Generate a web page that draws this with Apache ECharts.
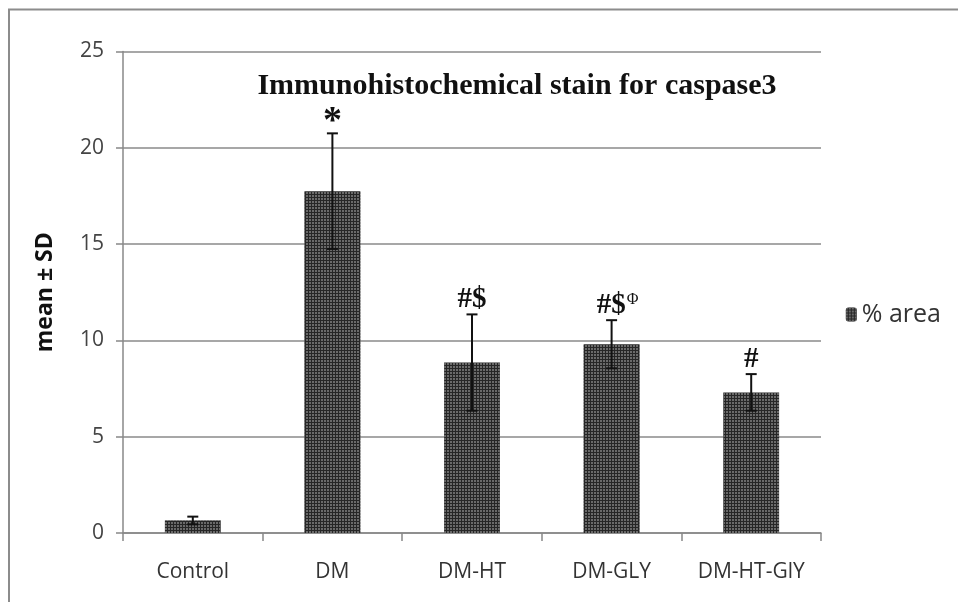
<!DOCTYPE html>
<html>
<head>
<meta charset="utf-8">
<script src="https://cdn.jsdelivr.net/npm/echarts@6/dist/echarts.min.js"></script>
<style>html,body{margin:0;padding:0;background:#fff;}#c{width:958px;height:602px;}</style>
</head>
<body>
<div id="c"></div>
<script>
const categories = ['Control', 'DM', 'DM-HT', 'DM-GLY', 'DM-HT-GlY'];
const means = [0.65, 17.75, 8.85, 9.8, 7.3];
const sds = [0.2, 3.0, 2.5, 1.25, 0.95];
const marks = ['', '*', '#$', '#$Φ', '#'];
const yTicks = [0, 5, 10, 15, 20, 25];
const titleText = 'Immunohistochemical stain for caspase3';
const seriesName = '% area';

const chart = echarts.init(document.getElementById('c'));
const errData = categories.map((c, i) => [i, means[i] - sds[i], means[i] + sds[i]]);
const markData = categories.map((c, i) => [i, means[i] + sds[i], marks[i]]);

chart.setOption({
  backgroundColor: '#fff',
  animation: false,
  graphic: [{
    type: 'polyline',
    shape: { points: [[9, 602], [9, 9.5], [958, 9.5]] },
    style: { stroke: '#8c8c8c', lineWidth: 2, fill: null }
  }],
  title: {
    text: titleText,
    left: 512, top: 66, textAlign: 'center',
    textStyle: { fontFamily: 'Liberation Serif', fontWeight: 'bold', fontSize: 30, color: '#111' }
  },
  legend: {
    right: 12, top: 297,
    itemWidth: 11, itemHeight: 14, itemGap: 6,
    textStyle: { fontFamily: 'Open Sans', fontSize: 25, color: '#333' },
    data: [seriesName]
  },
  grid: { left: 123, right: 137, top: 51.5, bottom: 69 },
  xAxis: {
    type: 'category',
    data: categories,
    axisLine: { lineStyle: { color: '#888', width: 1.5 } },
    axisTick: { show: true, length: 8, lineStyle: { color: '#888', width: 1.5 } },
    axisLabel: { margin: 29, fontFamily: 'Open Sans', fontSize: 21, color: '#333' }
  },
  yAxis: {
    type: 'value', min: yTicks[0], max: yTicks[yTicks.length - 1], interval: 5,
    name: 'mean ± SD', nameLocation: 'middle', nameGap: 66,
    nameTextStyle: { fontFamily: 'Open Sans', fontWeight: 'bold', fontSize: 23, color: '#111' },
    axisLine: { show: true, lineStyle: { color: '#888', width: 1.5 } },
    axisTick: { show: true, length: 7, lineStyle: { color: '#888', width: 1.5 } },
    axisLabel: { margin: 19, fontFamily: 'Open Sans', fontSize: 21, color: '#444' },
    splitLine: { lineStyle: { color: '#8a8a8a', width: 1.5 } }
  },
  series: [{
    name: seriesName,
    type: 'bar',
    data: means,
    barWidth: '40%',
    itemStyle: {
      color: '#262626',
      decal: { symbol: 'rect', symbolSize: 1, dashArrayX: [[2, 1]], dashArrayY: [2, 1], color: '#6a6a6a', rotation: 0 }
    }
  }, {
    type: 'custom',
    data: errData,
    z: 5,
    renderItem: function (params, api) {
      const lo = api.coord([api.value(0), api.value(1)]);
      const hi = api.coord([api.value(0), api.value(2)]);
      const hw = 5.5;
      const st = { stroke: '#111', lineWidth: 2 };
      return {
        type: 'group',
        children: [
          { type: 'line', shape: { x1: hi[0], y1: hi[1], x2: lo[0], y2: lo[1] }, style: st },
          { type: 'line', shape: { x1: hi[0] - hw, y1: hi[1], x2: hi[0] + hw, y2: hi[1] }, style: st },
          { type: 'line', shape: { x1: lo[0] - hw, y1: lo[1], x2: lo[0] + hw, y2: lo[1] }, style: st }
        ]
      };
    }
  }, {
    type: 'custom',
    data: markData,
    z: 6,
    renderItem: function (params, api) {
      const p = api.coord([api.value(0), api.value(1)]);
      const txt = marks[params.dataIndex];
      if (!txt) return null;
      const isStar = txt === '*';
      const main = txt.replace('Φ', '');
      const hasPhi = txt.indexOf('Φ') >= 0;
      return {
        type: 'text',
        x: p[0] + (hasPhi ? 6 : 0), y: p[1] + (isStar ? 8 : 0),
        style: {
          text: '{m|' + main + '}' + (hasPhi ? '{s|Φ}' : ''),
          align: 'center', verticalAlign: 'bottom',
          rich: {
            m: { fontFamily: 'Liberation Serif', fontSize: isStar ? 38 : 29, fontWeight: 'bold', fill: '#111' },
            s: { fontFamily: 'Liberation Serif', fontSize: 16, fill: '#111', padding: [0, 0, 12, 1] }
          }
        }
      };
    }
  }]
});
</script>
</body>
</html>
